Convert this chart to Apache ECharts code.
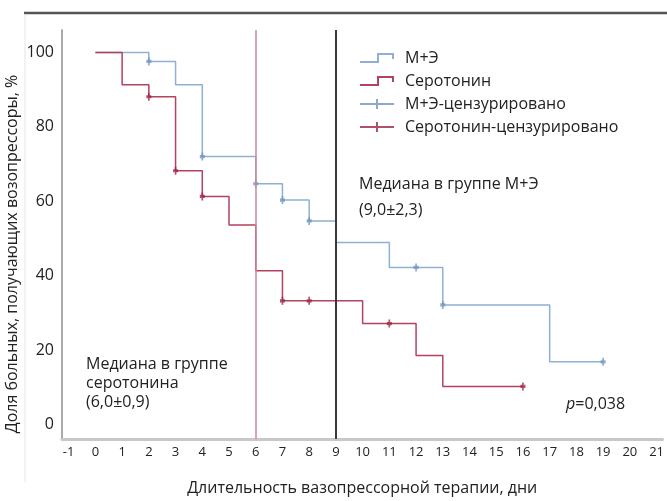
<!DOCTYPE html>
<html>
<head>
<meta charset="utf-8">
<script src="https://cdn.jsdelivr.net/npm/echarts@6/dist/echarts.min.js"></script>
<style>
  html, body { margin: 0; padding: 0; background: #fff; }
  #chart { width: 667px; height: 501px; }
</style>
</head>
<body>
<div id="chart"></div>
<script>
// Axis ticks
const dayTicks = [-1, 0, 1, 2, 3, 4, 5, 6, 7, 8, 9, 10, 11, 12, 13, 14, 15, 16, 17, 18, 19, 20, 21];
const shareTicks = [0, 20, 40, 60, 80, 100];

// Kaplan–Meier steps, group M+Э
const meDays  = [0, 2, 3, 4, 6, 7, 8, 9, 11, 13, 17, 19];
const meShare = [100, 97.6, 91.3, 72.0, 64.7, 60.3, 54.7, 48.9, 42.2, 32.1, 16.8, 16.8];
// censored observations, M+Э
const meCensDays  = [2, 4, 6, 7, 8, 12, 13, 19];
const meCensShare = [97.6, 72.0, 64.7, 60.3, 54.7, 42.2, 32.1, 16.8];

// Kaplan–Meier steps, serotonin group
const serDays  = [0, 1, 2, 3, 4, 5, 6, 7, 10, 12, 13, 16];
const serShare = [100, 91.3, 88.1, 68.2, 61.3, 53.6, 41.3, 33.2, 27.1, 18.5, 10.2, 10.2];
// censored observations, serotonin
const serCensDays  = [2, 3, 4, 7, 8, 11, 16];
const serCensShare = [88.1, 68.2, 61.3, 33.2, 33.2, 27.1, 10.2];

// medians (days)
const medianSer = 6;
const medianMe = 9;

const names = ['М+Э', 'Серотонин', 'М+Э-цензурировано', 'Серотонин-цензурировано'];

const blue = '#8fb0d2';
const red = '#b3425e';
const FONT = '"Open Sans", "Noto Sans", sans-serif';
const TXT = '#222';

const zip = (xs, ys) => xs.map((x, i) => [x, ys[i]]);

const stepIcon = 'path://M0,8h18v2h-18z M17,0h2v10h-2z M17,0h17v2h-17z M32,0h2v6h-2z';
const plusIcon = 'path://M0,4h34v2h-34z M16,0h2v10h-2z';
const censorSymbol = 'path://M4,0h2v10h-2z M2,3h6v4h-6z';

const chart = echarts.init(document.getElementById('chart'), null, { renderer: 'canvas' });

const label = (text, x, y) => ({
  type: 'text', silent: true, x, y,
  style: { text, fontSize: 16, fontFamily: FONT, fill: TXT, verticalAlign: 'middle' }
});

chart.setOption({
  animation: false,
  backgroundColor: '#fff',
  grid: { left: 62, right: 2, top: 30, bottom: 53, containLabel: false },
  xAxis: {
    type: 'value',
    min: -1.25,
    max: 21.22,
    name: 'Длительность вазопрессорной терапии, дни',
    nameLocation: 'middle',
    nameGap: 41,
    nameTextStyle: { fontSize: 16, color: TXT, fontFamily: FONT },
    axisLine: { show: true, onZero: false, lineStyle: { color: '#c8c8c8', width: 3 } },
    axisTick: { show: false },
    splitLine: { show: false },
    axisLabel: {
      customValues: dayTicks,
      fontSize: 13,
      color: TXT,
      fontFamily: FONT,
      margin: 7
    }
  },
  yAxis: {
    type: 'value',
    min: -3.95,
    max: 106.05,
    axisLine: { show: true, onZero: false, lineStyle: { color: '#aaaaaa', width: 2 } },
    axisTick: { show: false },
    splitLine: { show: false },
    axisLabel: {
      customValues: shareTicks,
      fontSize: 16,
      color: TXT,
      fontFamily: FONT,
      margin: 8
    }
  },
  legend: {
    orient: 'vertical',
    left: 360,
    top: 50,
    padding: 0,
    itemWidth: 34,
    itemHeight: 10,
    itemGap: 7,
    textStyle: { fontSize: 16, color: TXT, fontFamily: FONT, padding: [0, 0, 0, 6] },
    data: [
      { name: names[0], icon: stepIcon },
      { name: names[1], icon: stepIcon },
      { name: names[2], icon: plusIcon },
      { name: names[3], icon: plusIcon }
    ]
  },
  series: [
    {
      name: names[0],
      type: 'line',
      step: 'end',
      symbol: 'none',
      data: zip(meDays, meShare),
      itemStyle: { color: blue },
      lineStyle: { color: blue, width: 1.5 },
      z: 2,
      markLine: {
        silent: true,
        symbol: 'none',
        label: { show: false },
        data: [{ xAxis: medianMe, lineStyle: { color: '#3a3a3a', width: 2, type: 'solid' } }]
      }
    },
    {
      name: names[1],
      type: 'line',
      step: 'end',
      symbol: 'none',
      data: zip(serDays, serShare),
      itemStyle: { color: red },
      lineStyle: { color: red, width: 1.5 },
      z: 3,
      markLine: {
        silent: true,
        symbol: 'none',
        label: { show: false },
        data: [{ xAxis: medianSer, lineStyle: { color: '#c98c97', width: 1.5, type: 'solid' } }]
      }
    },
    {
      name: names[2],
      type: 'scatter',
      symbol: censorSymbol,
      symbolSize: [5, 8],
      data: zip(meCensDays, meCensShare),
      itemStyle: { color: '#6f93c0' },
      z: 4
    },
    {
      name: names[3],
      type: 'scatter',
      symbol: censorSymbol,
      symbolSize: [5, 8],
      data: zip(serCensDays, serCensShare),
      itemStyle: { color: '#9e2446' },
      z: 5
    }
  ],
  graphic: [
    { type: 'line', silent: true, shape: { x1: 24, y1: 13, x2: 667, y2: 13 }, style: { stroke: '#555', lineWidth: 2.5 } },
    { type: 'line', silent: true, shape: { x1: 25, y1: 14, x2: 25, y2: 482 }, style: { stroke: '#e4e4e4', lineWidth: 1 } },
    {
      type: 'text', silent: true, x: 12, y: 254, rotation: Math.PI / 2,
      style: { text: 'Доля больных, получающих возопрессоры, %', fontSize: 16, fontFamily: FONT, fill: TXT, align: 'center', verticalAlign: 'middle' }
    },
    label('Медиана в группе М+Э', 359, 184),
    label('(9,0±2,3)', 359, 210),
    label('Медиана в группе', 86, 364),
    label('серотонина', 86, 383),
    label('(6,0±0,9)', 86, 402),
    {
      type: 'text', silent: true, x: 566, y: 404,
      style: {
        text: '{i|p}=0,038', fontSize: 16, fontFamily: FONT, fill: TXT, verticalAlign: 'middle',
        rich: { i: { fontStyle: 'italic', fontSize: 16, fontFamily: FONT, fill: TXT } }
      }
    }
  ]
});
</script>
</body>
</html>
